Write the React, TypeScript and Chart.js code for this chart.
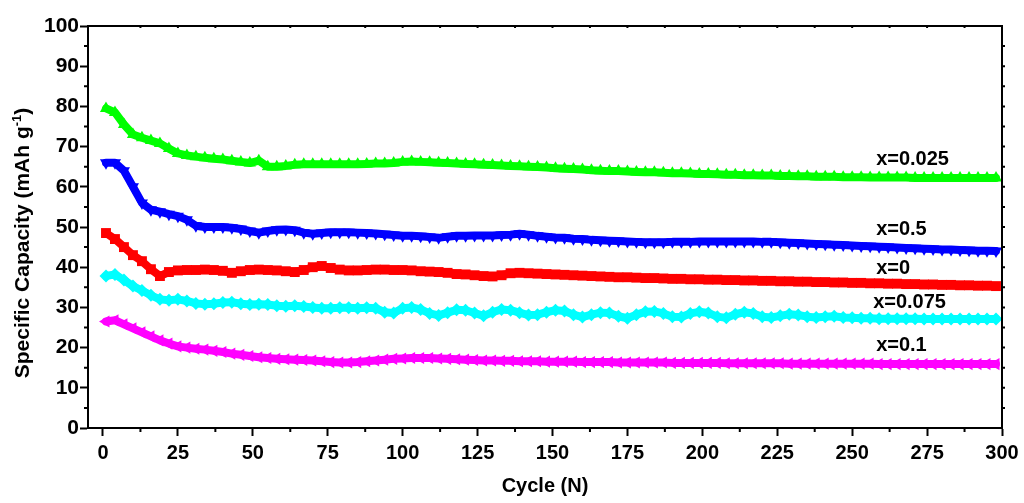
import React, { useEffect, useRef } from "react";
import { Chart, registerables } from "chart.js";

Chart.register(...registerables);

const cycles = [
  1, 4, 7, 10, 13, 16, 19, 22, 25, 28,
  31, 34, 37, 40, 43, 46, 49, 52, 55, 58,
  61, 64, 67, 70, 73, 76, 79, 82, 85, 88,
  91, 94, 97, 100, 103, 106, 109, 112, 115, 118,
  121, 124, 127, 130, 133, 136, 139, 142, 145, 148,
  151, 154, 157, 160, 163, 166, 169, 172, 175, 178,
  181, 184, 187, 190, 193, 196, 199, 202, 205, 208,
  211, 214, 217, 220, 223, 226, 229, 232, 235, 238,
  241, 244, 247, 250, 253, 256, 259, 262, 265, 268,
  271, 274, 277, 280, 283, 286, 289, 292, 295, 298,
];

const capX0025 = [
  79.5, 78.5, 75.5, 73.0, 72.2, 71.5, 70.8, 69.5, 68.3, 67.8,
  67.5, 67.2, 67.0, 66.8, 66.5, 66.2, 65.9, 66.5, 65.0, 65.0,
  65.2, 65.5, 65.6, 65.6, 65.6, 65.6, 65.6, 65.6, 65.6, 65.7,
  65.8, 65.8, 65.9, 66.2, 66.3, 66.2, 66.1, 66.0, 65.9, 65.8,
  65.7, 65.6, 65.5, 65.4, 65.3, 65.2, 65.1, 65.0, 64.9, 64.8,
  64.6, 64.5, 64.4, 64.3, 64.1, 64.0, 63.9, 63.9, 63.8, 63.7,
  63.6, 63.6, 63.5, 63.4, 63.4, 63.3, 63.2, 63.2, 63.1, 63.0,
  63.0, 62.9, 62.9, 62.8, 62.8, 62.7, 62.7, 62.6, 62.6, 62.5,
  62.5, 62.5, 62.4, 62.4, 62.4, 62.3, 62.3, 62.3, 62.3, 62.3,
  62.2, 62.2, 62.2, 62.2, 62.2, 62.2, 62.2, 62.2, 62.2, 62.2,
];

const capX05 = [
  66.0, 66.0, 64.0, 60.0, 56.0, 54.3, 53.8, 53.2, 52.7, 51.8,
  50.3, 50.0, 50.0, 50.0, 49.8, 49.5, 49.0, 48.6, 49.0, 49.3,
  49.4, 49.2, 48.6, 48.3, 48.5, 48.7, 48.7, 48.7, 48.6, 48.5,
  48.4, 48.2, 48.0, 47.8, 47.8, 47.7, 47.5, 47.3, 47.6, 47.8,
  47.8, 47.9, 47.9, 47.9, 48.0, 48.1, 48.3, 48.1, 47.8, 47.6,
  47.4, 47.3, 47.1, 47.0, 46.8, 46.7, 46.6, 46.5, 46.4, 46.3,
  46.2, 46.2, 46.2, 46.3, 46.3, 46.3, 46.4, 46.4, 46.4, 46.4,
  46.4, 46.4, 46.4, 46.3, 46.3, 46.2, 46.1, 46.0, 45.9, 45.8,
  45.7, 45.6, 45.5, 45.4, 45.3, 45.2, 45.1, 45.0, 44.9, 44.8,
  44.7, 44.6, 44.5, 44.4, 44.4, 44.3, 44.2, 44.1, 44.1, 44.0,
];

const capX0 = [
  48.5, 47.0, 45.0, 43.0, 41.5, 39.5, 37.8, 38.8, 39.2, 39.3,
  39.3, 39.4, 39.3, 39.1, 38.6, 39.0, 39.3, 39.4, 39.3, 39.2,
  39.0, 38.8, 39.3, 40.0, 40.3, 39.8, 39.4, 39.2, 39.2, 39.3,
  39.4, 39.4, 39.3, 39.3, 39.2, 39.0, 38.9, 38.8, 38.6, 38.3,
  38.2, 38.0, 37.8, 37.7, 38.0, 38.5, 38.6, 38.5, 38.4, 38.3,
  38.2, 38.1, 38.0, 37.9, 37.8, 37.7, 37.6, 37.5, 37.5, 37.4,
  37.3, 37.3, 37.2, 37.1, 37.1, 37.0, 37.0, 36.9, 36.9, 36.8,
  36.8, 36.7, 36.7, 36.6, 36.6, 36.5, 36.5, 36.4, 36.4, 36.3,
  36.3, 36.2, 36.2, 36.1, 36.1, 36.0, 36.0, 35.9, 35.9, 35.8,
  35.8, 35.7, 35.7, 35.6, 35.6, 35.5, 35.5, 35.4, 35.4, 35.3,
];

const capX0075 = [
  37.8, 38.2, 36.8, 35.3, 34.2, 33.0, 32.0, 31.8, 32.0, 31.6,
  31.0, 30.8, 30.9, 31.2, 31.3, 30.9, 30.7, 30.8, 30.7, 30.4,
  30.3, 30.4, 30.2, 30.0, 29.8, 29.8, 29.9, 29.9, 29.8, 29.9,
  29.8, 28.8, 28.6, 29.8, 30.0, 29.5, 28.5, 28.0, 28.7, 29.4,
  29.3, 28.6, 27.9, 28.8, 29.5, 29.3, 28.7, 28.1, 28.2, 28.8,
  29.3, 29.1, 28.2, 27.6, 28.2, 28.7, 28.6, 27.8, 27.3, 28.2,
  28.9, 29.0, 28.5, 27.7, 27.6, 28.5, 28.9, 28.6, 27.7, 27.4,
  28.3, 28.8, 28.5, 27.7, 27.5, 27.9, 28.3, 28.1, 27.7, 27.5,
  27.7, 27.8, 27.5, 27.4, 27.3, 27.3, 27.2, 27.2, 27.2, 27.2,
  27.2, 27.1, 27.1, 27.1, 27.1, 27.1, 27.1, 27.1, 27.1, 27.1,
];

const capX01 = [
  26.5, 26.8, 25.8, 24.8, 23.8, 22.8, 21.8, 21.0, 20.3, 20.0,
  19.7, 19.5, 19.2, 18.9, 18.5, 18.2, 17.9, 17.6, 17.4, 17.2,
  17.1, 17.0, 16.9, 16.8, 16.6, 16.4, 16.3, 16.3, 16.4, 16.6,
  16.8, 17.0, 17.2, 17.3, 17.4, 17.4, 17.4, 17.3, 17.2, 17.1,
  17.0, 16.9, 16.8, 16.8, 16.7, 16.7, 16.6, 16.6, 16.6, 16.5,
  16.5, 16.5, 16.5, 16.4, 16.4, 16.4, 16.4, 16.3, 16.3, 16.3,
  16.3, 16.3, 16.3, 16.2, 16.2, 16.2, 16.2, 16.2, 16.2, 16.1,
  16.1, 16.1, 16.1, 16.1, 16.1, 16.1, 16.0, 16.0, 16.0, 16.0,
  16.0, 16.0, 16.0, 16.0, 16.0, 16.0, 15.9, 15.9, 15.9, 15.9,
  15.9, 15.9, 15.9, 15.9, 15.9, 15.9, 15.9, 15.9, 15.9, 15.9,
];

const xTicks = [0, 25, 50, 75, 100, 125, 150, 175, 200, 225, 250, 275, 300];
const yTicks = [0, 10, 20, 30, 40, 50, 60, 70, 80, 90, 100];

const seriesNames = ["x=0.025", "x=0.5", "x=0", "x=0.075", "x=0.1"];
const labelCycle = [258, 258, 258, 257, 258];
const labelCapacity = [66.9, 49.3, 39.8, 31.1, 20.5];

const FONT = "'Liberation Sans', Arial, Helvetica, sans-serif";

function makePoints(values: number[]) {
  return cycles.map((c, i) => ({ x: c, y: values[i] }));
}

const decorPlugin = {
  id: "decor",
  afterDraw(chart: any) {
    const { ctx, chartArea: a, scales } = chart;
    const xs = scales.x;
    const ys = scales.y;
    ctx.save();
    ctx.strokeStyle = "#000";
    ctx.lineWidth = 2;
    ctx.strokeRect(a.left, a.top, a.right - a.left, a.bottom - a.top);
    ctx.beginPath();
    for (let v = 5; v < 100; v += 10) {
      const y = ys.getPixelForValue(v);
      ctx.moveTo(a.left - 4, y);
      ctx.lineTo(a.left, y);
    }
    for (let v = 5; v < 100; v += 5) {
      const y = ys.getPixelForValue(v);
      ctx.moveTo(a.right, y);
      ctx.lineTo(a.right + 3, y);
    }
    for (let v = 12.5; v < 300; v += 25) {
      const x = xs.getPixelForValue(v);
      ctx.moveTo(x, a.bottom);
      ctx.lineTo(x, a.bottom + 4);
    }
    for (let v = 12.5; v < 300; v += 12.5) {
      const x = xs.getPixelForValue(v);
      ctx.moveTo(x, a.top);
      ctx.lineTo(x, a.top + 2);
    }
    ctx.stroke();

    ctx.fillStyle = "#000";
    ctx.font = `bold 20px ${FONT}`;
    ctx.textAlign = "left";
    ctx.textBaseline = "middle";
    seriesNames.forEach((name, i) => {
      ctx.fillText(name, xs.getPixelForValue(labelCycle[i]), ys.getPixelForValue(labelCapacity[i]));
    });

    const main = "Specific Capacity (mAh g";
    const sup = "-1";
    const close = ")";
    const mainFont = `bold 21px ${FONT}`;
    const supFont = `bold 13px ${FONT}`;
    ctx.font = mainFont;
    const wMain = ctx.measureText(main).width;
    const wClose = ctx.measureText(close).width;
    ctx.font = supFont;
    const wSup = ctx.measureText(sup).width;
    const total = wMain + wSup + wClose;
    ctx.translate(22, 243);
    ctx.rotate(-Math.PI / 2);
    ctx.textBaseline = "alphabetic";
    let x0 = -total / 2;
    const base = 7;
    ctx.font = mainFont;
    ctx.fillText(main, x0, base);
    x0 += wMain;
    ctx.font = supFont;
    ctx.fillText(sup, x0, base - 8);
    x0 += wSup;
    ctx.font = mainFont;
    ctx.fillText(close, x0, base);
    ctx.restore();
  },
};

export default function App() {
  const canvasRef = useRef<HTMLCanvasElement | null>(null);

  useEffect(() => {
    document.body.style.margin = "0";
    const canvas = canvasRef.current;
    if (!canvas) return;
    const common = { showLine: true, borderWidth: 8, pointBorderWidth: 0, borderJoinStyle: "round", borderCapStyle: "round" };
    const chart = new Chart(canvas, {
      type: "scatter",
      data: {
        datasets: [
          { ...common, label: seriesNames[4], data: makePoints(capX01), borderColor: "#FF00FF", backgroundColor: "#FF00FF", pointStyle: "triangle", pointRotation: 270, pointRadius: 7 },
          { ...common, label: seriesNames[3], data: makePoints(capX0075), borderColor: "#00FFFF", backgroundColor: "#00FFFF", pointStyle: "rectRot", pointRadius: 6.5 },
          { ...common, label: seriesNames[2], data: makePoints(capX0), borderColor: "#FF0000", backgroundColor: "#FF0000", pointStyle: "rect", pointRadius: 7 },
          { ...common, label: seriesNames[1], data: makePoints(capX05), borderColor: "#0000FF", backgroundColor: "#0000FF", pointStyle: "triangle", pointRotation: 180, pointRadius: 7 },
          { ...common, label: seriesNames[0], data: makePoints(capX0025), borderColor: "#00FF00", backgroundColor: "#00FF00", pointStyle: "triangle", pointRadius: 7 },
        ] as any,
      },
      options: {
        animation: false,
        responsive: false,
        maintainAspectRatio: false,
        layout: { padding: { left: 0, right: 22, top: 26, bottom: 0 } },
        plugins: { legend: { display: false }, tooltip: { enabled: false }, title: { display: false } },
        elements: { line: { tension: 0 } },
        scales: {
          x: {
            type: "linear",
            min: -5,
            max: 300,
            afterBuildTicks: (scale: any) => {
              scale.ticks = xTicks.map((v) => ({ value: v }));
            },
            afterFit: (scale: any) => {
              scale.height = 75;
            },
            grid: { display: true, drawOnChartArea: false, drawTicks: true, tickLength: 8, tickWidth: 2, tickColor: "#000", color: "#000" },
            border: { display: true, color: "#000", width: 2 },
            ticks: { color: "#000", font: { family: FONT, size: 20, weight: "bold" }, padding: 5, autoSkip: false, maxRotation: 0 },
            title: { display: true, text: "Cycle (N)", color: "#000", font: { family: FONT, size: 20, weight: "bold" }, padding: { top: 0, bottom: 5 } },
          },
          y: {
            type: "linear",
            min: 0,
            max: 100,
            afterBuildTicks: (scale: any) => {
              scale.ticks = yTicks.map((v) => ({ value: v }));
            },
            afterFit: (scale: any) => {
              scale.width = 88;
            },
            grid: { display: true, drawOnChartArea: false, drawTicks: true, tickLength: 8, tickWidth: 2, tickColor: "#000", color: "#000" },
            border: { display: true, color: "#000", width: 2 },
            ticks: { color: "#000", font: { family: FONT, size: 21, weight: "bold" }, padding: 1, autoSkip: false },
          },
        },
      } as any,
      plugins: [decorPlugin],
    });
    return () => chart.destroy();
  }, []);

  return (
    <div style={{ width: 1024, height: 503, background: "#fff" }}>
      <canvas ref={canvasRef} width={1024} height={503} />
    </div>
  );
}
